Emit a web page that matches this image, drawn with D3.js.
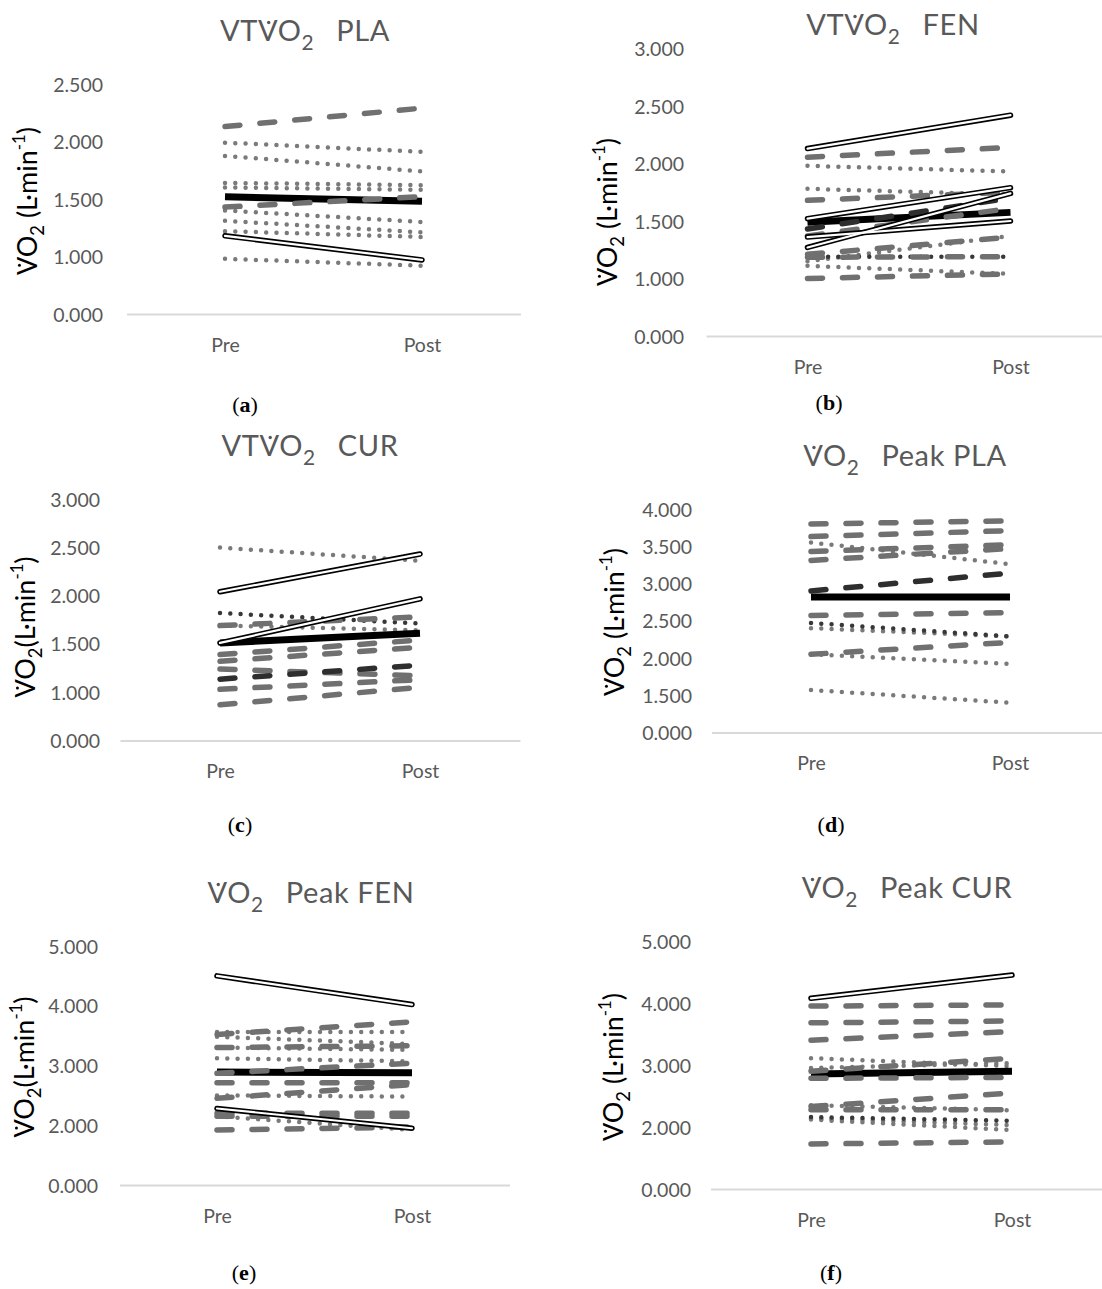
<!DOCTYPE html>
<html><head><meta charset="utf-8">
<script src="https://cdn.jsdelivr.net/npm/d3@7"></script>
<style>body{margin:0;background:#fff} svg{display:block}</style>
</head><body>
<svg id="chart" width="1102" height="1289"></svg>
<script>
const categories = ["Pre", "Post"];

// (a) VT VO2 PLA  — each pair is [Pre, Post]
const aDotted = [[1.99,1.91],[1.875,1.74],[1.64,1.62],[1.60,1.58],[1.40,1.30],[1.31,1.21],[1.22,1.17],[0.98,0.92]];
const aDottedDark = [];
const aDashed = [[2.13,2.29],[1.43,1.52]];
const aDashedDark = [];
const aDouble = [[1.18,0.97]];
const aMean = [1.52,1.48];
const aTicks = [0.5,1.0,1.5,2.0,2.5];
const aTickLabels = ["0.000","1.000","1.500","2.000","2.500"];

// (b) VT VO2 FEN
const bDotted = [[1.98,1.93],[1.78,1.73],[1.15,1.37],[1.11,1.04]];
const bDottedDark = [[1.19,1.19]];
const bDashed = [[2.055,2.14],[1.68,1.75],[1.37,1.61],[1.21,1.36],[1.185,1.19],[1.00,1.04]];
const bDashedDark = [[1.43,1.70]];
const bDouble = [[2.13,2.42],[1.52,1.79],[1.36,1.50],[1.27,1.74]];
const bMean = [1.49,1.575];
const bTicks = [0.5,1.0,1.5,2.0,2.5,3.0];
const bTickLabels = ["0.000","1.000","1.500","2.000","2.500","3.000"];

// (c) VT VO2 CUR
const cDotted = [[2.497,2.36],[1.69,1.64]];
const cDottedDark = [[1.82,1.71]];
const cDashed = [[1.69,1.78],[1.39,1.54],[1.32,1.465],[1.24,1.17],[1.03,1.13],[0.87,1.05]];
const cDashedDark = [[1.135,1.28]];
const cDouble = [[2.04,2.43],[1.51,1.966]];
const cMean = [1.51,1.61];
const cTicks = [0.5,1.0,1.5,2.0,2.5,3.0];
const cTickLabels = ["0.000","1.000","1.500","2.000","2.500","3.000"];

// (d) VO2 Peak PLA
const dDotted = [[3.55,3.26],[2.40,2.29],[2.05,1.92],[1.57,1.40]];
const dDottedDark = [[2.47,2.29]];
const dDashed = [[3.80,3.84],[3.63,3.71],[3.43,3.52],[3.31,3.47],[2.57,2.61],[2.05,2.21]];
const dDashedDark = [[2.90,3.14]];
const dDouble = [];
const dMean = [2.82,2.82];
const dTicks = [1.0,1.5,2.0,2.5,3.0,3.5,4.0];
const dTickLabels = ["0.000","1.500","2.000","2.500","3.000","3.500","4.000"];

// (e) VO2 Peak FEN
const eDotted = [[3.56,3.56],[3.48,3.36],[3.30,3.26],[3.12,3.07],[2.50,2.48],[2.15,1.92]];
const eDottedDark = [];
const eDashed = [[3.52,3.73],[3.30,3.33],[2.87,3.04],[2.71,2.71],[2.45,2.68],[2.20,2.20],[2.15,2.15],[1.92,1.97]];
const eDashedDark = [];
const eDouble = [[4.50,4.02],[2.28,1.95]];
const eMean = [2.89,2.88];
const eTicks = [1,2,3,4,5];
const eTickLabels = ["0.000","2.000","3.000","4.000","5.000"];

// (f) VO2 Peak CUR
const fDotted = [[3.11,2.98],[2.95,3.03],[2.35,2.27],[2.14,2.03],[2.12,1.95]];
const fDottedDark = [[2.16,2.10]];
const fDashed = [[3.95,3.97],[3.68,3.71],[3.40,3.54],[2.90,3.11],[2.785,2.80],[2.33,2.55],[2.28,2.28],[1.726,1.76]];
const fDashedDark = [];
const fDouble = [[4.075,4.45]];
const fMean = [2.855,2.90];
const fTicks = [1,2,3,4,5];
const fTickLabels = ["0.000","2.000","3.000","4.000","5.000"];

// ---- layout (positions only) ----
const panels = [
  {id:"a", dotted:aDotted, dottedDark:aDottedDark, dashed:aDashed, dashedDark:aDashedDark, dbl:aDouble, mean:aMean, ticks:aTicks, labels:aTickLabels,
   xr:[126.5,520.5], yr:[314,84], tickX:103, pre:"VT", suf:"PLA", tx:305, ty:41, yx:27, yy:201, sp:true, lx:245, ly:412},
  {id:"b", dotted:bDotted, dottedDark:bDottedDark, dashed:bDashed, dashedDark:bDashedDark, dbl:bDouble, mean:bMean, ticks:bTicks, labels:bTickLabels,
   xr:[706,1112], yr:[336,48.5], tickX:684, pre:"VT", suf:"FEN", tx:893, ty:35, yx:607, yy:212, sp:true, lx:829, ly:410},
  {id:"c", dotted:cDotted, dottedDark:cDottedDark, dashed:cDashed, dashedDark:cDashedDark, dbl:cDouble, mean:cMean, ticks:cTicks, labels:cTickLabels,
   xr:[120,520], yr:[740.5,499], tickX:100, pre:"VT", suf:"CUR", tx:310, ty:456, yx:25, yy:627, sp:false, lx:240, ly:832},
  {id:"d", dotted:dDotted, dottedDark:dDottedDark, dashed:dDashed, dashedDark:dDashedDark, dbl:dDouble, mean:dMean, ticks:dTicks, labels:dTickLabels,
   xr:[711.5,1109.5], yr:[732.5,509], tickX:692, pre:"", suf:"Peak PLA", tx:905, ty:466, yx:614, yy:622, sp:true, lx:831, ly:832},
  {id:"e", dotted:eDotted, dottedDark:eDottedDark, dashed:eDashed, dashedDark:eDashedDark, dbl:eDouble, mean:eMean, ticks:eTicks, labels:eTickLabels,
   xr:[119.5,509.5], yr:[1185,946], tickX:98, pre:"", suf:"Peak FEN", tx:311, ty:903, yx:24, yy:1067, sp:false, lx:244, ly:1280},
  {id:"f", dotted:fDotted, dottedDark:fDottedDark, dashed:fDashed, dashedDark:fDashedDark, dbl:fDouble, mean:fMean, ticks:fTicks, labels:fTickLabels,
   xr:[710.5,1112.5], yr:[1189,941], tickX:691, pre:"", suf:"Peak CUR", tx:907, ty:898, yx:613, yy:1067, sp:true, lx:831, ly:1280}
];

const FONT = "Lato, 'Open Sans', sans-serif";
const GREY = "#595959";
const svg = d3.select("#chart");

function addDot(textNode, g, idx, fs, r, fill) {
  const ext = textNode.getExtentOfChar(idx);
  const start = textNode.getStartPositionOfChar(idx);
  g.append("circle")
    .attr("cx", ext.x + ext.width / 2 + fs * 0.03)
    .attr("cy", start.y - fs * 0.64)
    .attr("r", r)
    .attr("fill", fill);
}

panels.forEach(p => {
  const g = svg.append("g").attr("class", "panel-" + p.id);
  const x = d3.scalePoint().domain(categories).range(p.xr).padding(0.5);
  const y = d3.scaleLinear().domain([p.ticks[0], p.ticks[p.ticks.length - 1]]).range(p.yr);

  // x axis (baseline + category labels)
  const xa = g.append("g").attr("transform", `translate(0,${p.yr[0]})`)
    .call(d3.axisBottom(x).tickSize(0).tickSizeOuter(0).tickPadding(24));
  xa.select(".domain").attr("stroke", "#d9d9d9").attr("stroke-width", 2);
  xa.selectAll("text").attr("font-family", FONT).attr("font-size", 19.5).attr("fill", GREY);

  // y axis labels
  const ya = g.append("g").attr("transform", `translate(${p.tickX},0)`)
    .call(d3.axisLeft(y).tickValues(p.ticks).tickSize(0).tickPadding(0)
      .tickFormat((d, i) => p.labels[i]));
  ya.select(".domain").remove();
  ya.selectAll("text").attr("font-family", FONT).attr("font-size", 19.5).attr("fill", GREY).attr("dy", "0.36em");

  const line = d3.line().x((d, i) => x(categories[i])).y(d => y(d));

  function draw(data, stroke, width, dash, cap) {
    g.append("g").selectAll("path").data(data).join("path")
      .attr("d", line).attr("fill", "none")
      .attr("stroke", stroke).attr("stroke-width", width)
      .attr("stroke-dasharray", dash).attr("stroke-linecap", cap);
  }
  draw(p.dotted, "#7a7a7a", 4.5, "0,10.3", "round");
  draw(p.dottedDark, "#383838", 4.5, "0,10.3", "round");
  draw([p.mean], "#000", 7, null, "butt");
  draw(p.dashed, "#707070", 5.5, "15,20", "round");
  draw(p.dashedDark, "#2e2e2e", 5.5, "15,20", "round");
  draw(p.dbl, "#000", 5.5, null, "round");
  draw(p.dbl, "#fff", 2.2, null, "round");

  // title
  const fsT = 29;
  const t = g.append("text").attr("x", p.tx).attr("y", p.ty).attr("text-anchor", "middle")
    .attr("font-family", FONT).attr("font-size", fsT).attr("fill", GREY).attr("letter-spacing", 0.6);
  t.append("tspan").text(p.pre + "VO");
  t.append("tspan").attr("font-size", fsT * 0.72).attr("dy", fsT * 0.3).text("2");
  t.append("tspan").attr("dy", -fsT * 0.3).attr("dx", 14).text("\u00a0" + p.suf);
  addDot(t.node(), g, p.pre.length, fsT, 1.7, GREY);

  // y title
  const fsY = 27;
  const yg = g.append("g").attr("transform", `translate(${p.yx},${p.yy}) rotate(-90)`);
  const yt = yg.append("text").attr("x", 0).attr("y", fsY * 0.36).attr("text-anchor", "middle")
    .attr("font-family", FONT).attr("font-size", fsY).attr("fill", "#000");
  yt.append("tspan").text("VO");
  yt.append("tspan").attr("font-size", fsY * 0.68).attr("dy", fsY * 0.28).text("2");
  yt.append("tspan").attr("dy", -fsY * 0.28).text((p.sp ? "\u00a0" : "") + "(L\u00b7min");
  yt.append("tspan").attr("font-size", fsY * 0.62).attr("dy", -fsY * 0.42).text("-1");
  yt.append("tspan").attr("dy", fsY * 0.42).text(")");
  addDot(yt.node(), yg, 0, fsY, 1.5, "#000");

  // panel label
  const lt = g.append("text").attr("x", p.lx).attr("y", p.ly).attr("text-anchor", "middle")
    .attr("font-family", "'Liberation Serif', 'Times New Roman', serif").attr("font-size", 22).attr("fill", "#000");
  lt.append("tspan").text("(");
  lt.append("tspan").attr("font-weight", "bold").text(p.id);
  lt.append("tspan").text(")");
});
</script>
</body></html>
